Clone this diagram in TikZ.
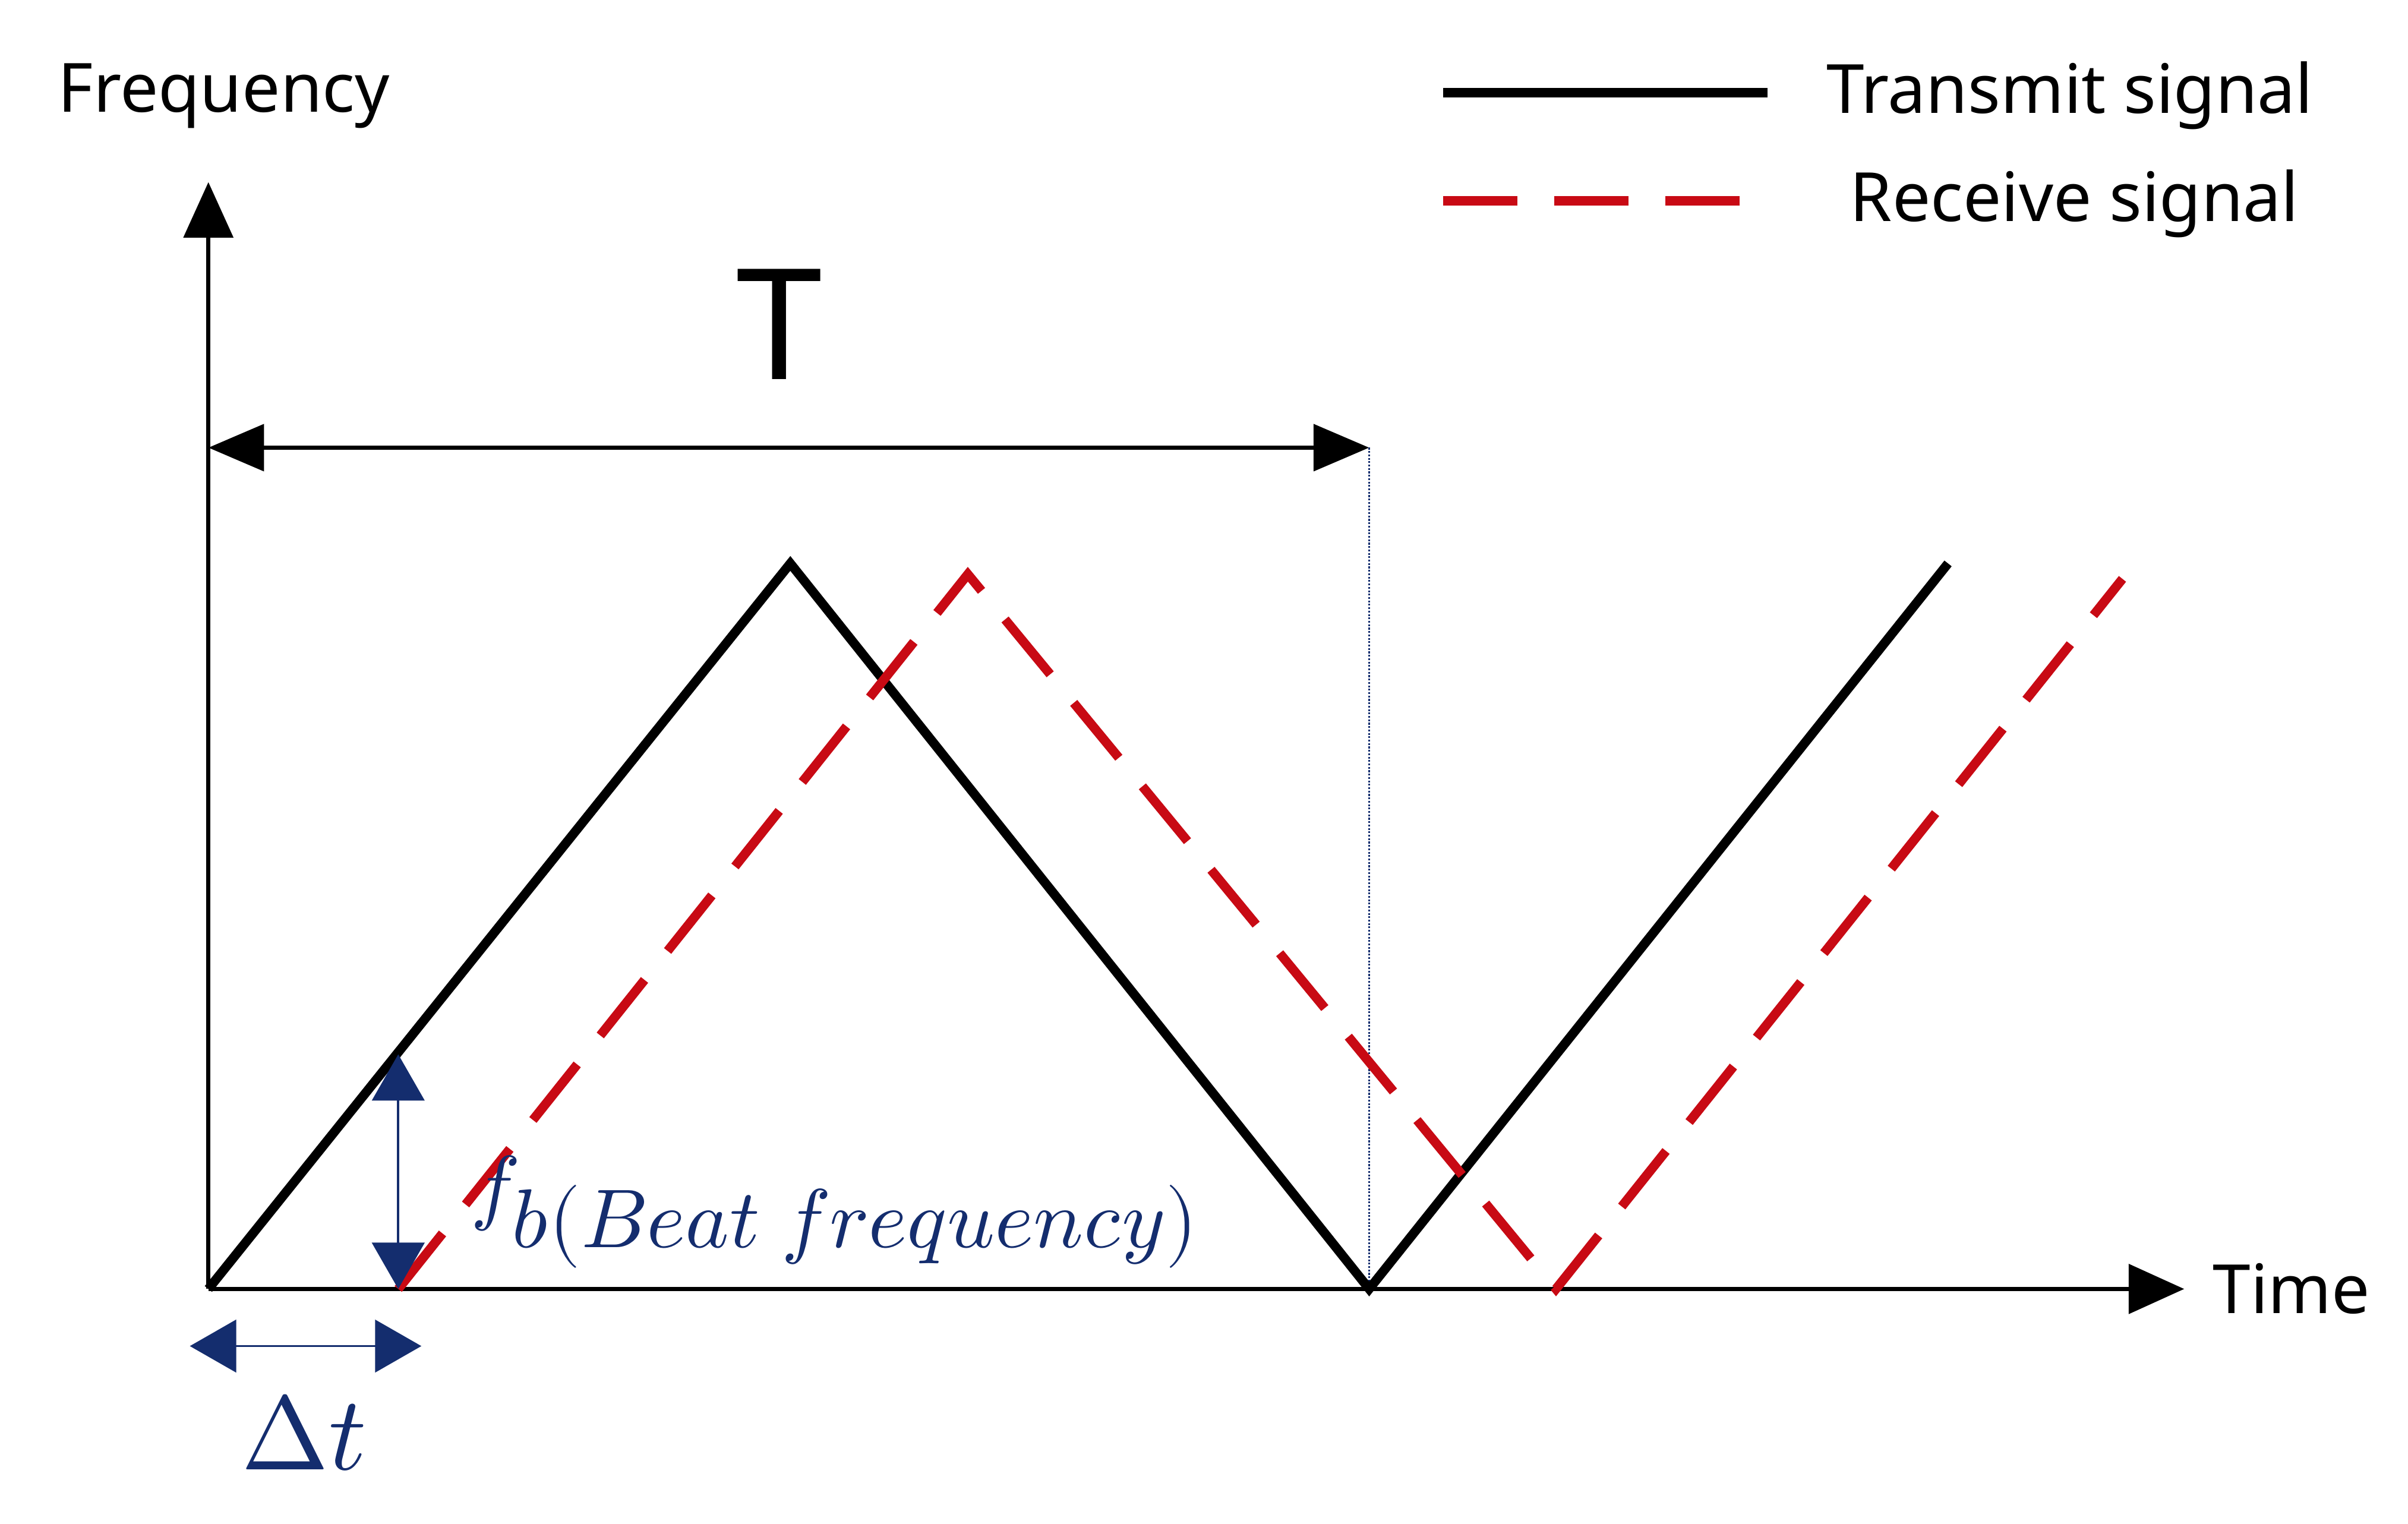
\documentclass[tikz,border=0pt]{standalone}
\usepackage{fontspec}
\usepackage{unicode-math}
\setmainfont{Noto Sans}
\setmathfont{Latin Modern Math}
\usetikzlibrary{arrows.meta}
\definecolor{navy}{RGB}{20,45,110}
\definecolor{rdash}{RGB}{200,10,20}
\begin{document}
\begin{tikzpicture}[x=1pt,y=-1pt,
  sig/.style={line width=6pt},
  rsig/.style={line width=6pt,color=rdash,dash pattern=on 46pt off 24pt},
  axis/.style={line width=2.5pt,-{Triangle[length=36pt,width=32pt]}},
  navyarr/.style={color=navy,line width=1.5pt,{Triangle[length=30pt,width=34pt]}-{Triangle[length=30pt,width=34pt]}},
  lbl/.style={font=\fontsize{44}{50}\selectfont}]
\useasboundingbox (0,0) rectangle (1560,987);
\coordinate (O) at (135,835);
\coordinate (Ytip) at (135,118);
\coordinate (Xtip) at (1415,835);
\draw[axis] (O) -- (Ytip);
\draw[axis] (O) -- (Xtip);
\node[lbl] (freq) at (145,62) {Frequency};
\node[lbl,anchor=west] (time) at (1430,835) {Time};
% T arrow
\coordinate (Ta) at (135,290);
\coordinate (Tb) at (887,290);
\draw[line width=3pt,{Triangle[length=36pt,width=30pt]}-{Triangle[length=36pt,width=30pt]}] (Ta) -- (Tb);
\node[font=\fontsize{100}{110}\selectfont] (T) at (505,210) {T};
\coordinate (Tbot) at (887,835);
\draw[navy,line width=1.2pt,densely dotted] (Tb) -- (Tbot);
% signals
\draw[sig,line join=miter] (135,835) -- (512,365) -- (887,835) -- (1262,365);
\draw[rsig] (258,835) -- (627,372) -- (1008,835) -- (1375,375);
% legend
\draw[sig] (935,60) -- (1145,60);
\node[lbl,anchor=west] (ltx) at (1180,62) {Transmit signal};
\draw[rsig,dash pattern=on 48pt off 24pt] (935,130) -- (1145,130);
\node[lbl,anchor=west] (lrx) at (1195,132) {Receive signal};
% beat frequency
\coordinate (fbt) at (258,683);
\coordinate (fbb) at (258,835);
\draw[navyarr] (fbt) -- (fbb);
\node[navy,anchor=west,inner sep=0pt,font=\fontsize{54}{60}\selectfont] (fb) at (305,785) {$\displaystyle f_{\displaystyle b(\symit{Beat\ frequency})}$};
% delta t
\coordinate (dta) at (123,872);
\coordinate (dtb) at (273,872);
\draw[navyarr] (dta) -- (dtb);
\node[navy,font=\fontsize{68}{76}\selectfont] (dt) at (197,928) {$\Delta t$};
\end{tikzpicture}
\end{document}
